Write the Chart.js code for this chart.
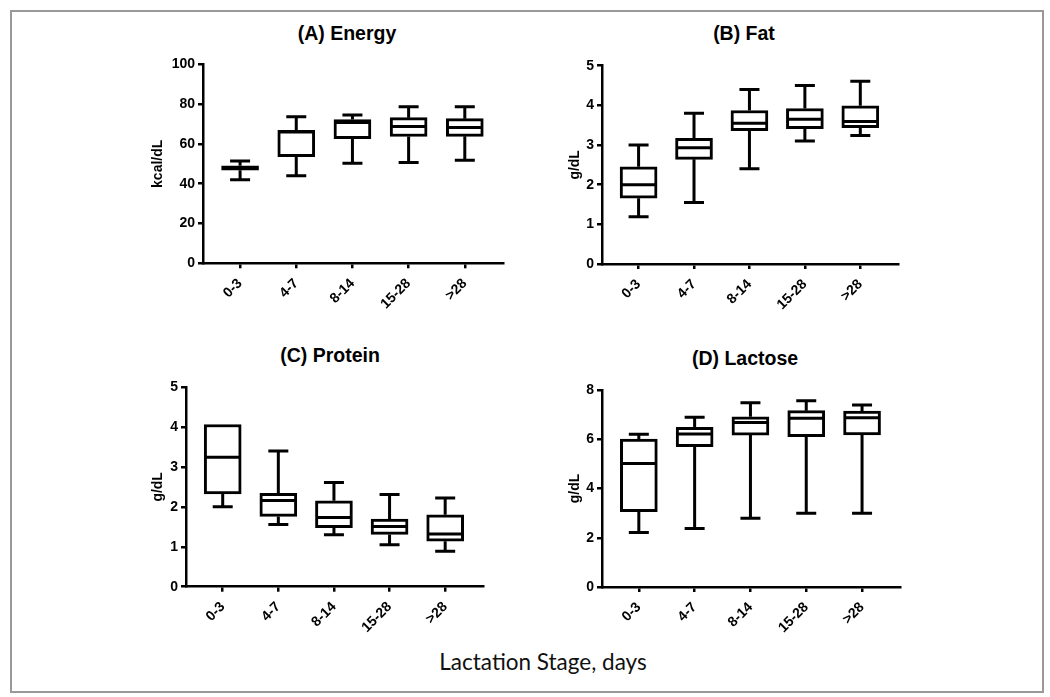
<!DOCTYPE html>
<html>
<head>
<meta charset="utf-8">
<script src="https://cdn.jsdelivr.net/npm/chart.js@4"></script>
<style>
  body { margin: 0; background: #fff; }
  #wrap { position: relative; width: 1050px; height: 697px; background: #fff; }
  #frame { position: absolute; left: 10px; top: 10px; width: 1030px; height: 679px; border: 2px solid #999; }
  canvas { position: absolute; }
  .ptitle { position: absolute; transform: translate(-50%, -50%); font: bold 19.5px "Liberation Sans", Arial, sans-serif; color: #000; white-space: nowrap; }
  #xlabel { position: absolute; left: 543px; top: 661px; transform: translate(-50%, -50%); font: 22.5px Lato, "Open Sans", sans-serif; color: #111; white-space: nowrap; }
</style>
</head>
<body>
<div id="wrap">
  <div id="frame"></div>
  <div class="ptitle" style="left:347px; top:33px;">(A) Energy</div>
  <div class="ptitle" style="left:744px; top:33px;">(B) Fat</div>
  <div class="ptitle" style="left:330px; top:355px;">(C) Protein</div>
  <div class="ptitle" style="left:745px; top:358px;">(D) Lactose</div>
  <div id="xlabel">Lactation Stage, days</div>
  <canvas id="chartA" width="367" height="300" style="left:146px; top:20px;"></canvas>
  <canvas id="chartB" width="345" height="300" style="left:563px; top:20px;"></canvas>
  <canvas id="chartC" width="347" height="300" style="left:146px; top:340px;"></canvas>
  <canvas id="chartD" width="347" height="300" style="left:563px; top:340px;"></canvas>
</div>
<script>
const stages = ["0-3", "4-7", "8-14", "15-28", ">28"];

// (A) Energy, kcal/dL
const energyMin = [42, 44, 50.3, 50.6, 51.8];
const energyQ1 = [46.8, 53.6, 62.6, 63.7, 63.8];
const energyMed = [47.8, 66, 70.8, 68.7, 68.2];
const energyQ3 = [49, 66.8, 72.2, 73.2, 72.7];
const energyMax = [51.4, 73.7, 74.5, 78.7, 78.7];

// (B) Fat, g/dL
const fatMin = [1.19, 1.55, 2.4, 3.1, 3.24];
const fatQ1 = [1.66, 2.64, 3.36, 3.41, 3.44];
const fatMed = [2.0, 2.93, 3.55, 3.65, 3.59];
const fatQ3 = [2.45, 3.17, 3.87, 3.92, 3.99];
const fatMax = [3.0, 3.8, 4.4, 4.5, 4.61];

// (C) Protein, g/dL
const proteinMin = [2.0, 1.56, 1.3, 1.05, 0.89];
const proteinQ1 = [2.32, 1.76, 1.48, 1.31, 1.14];
const proteinMed = [3.24, 2.16, 1.73, 1.51, 1.32];
const proteinQ3 = [4.06, 2.34, 2.15, 1.69, 1.8];
const proteinMax = [4.06, 3.4, 2.61, 2.31, 2.22];

// (D) Lactose, g/dL
const lactoseMin = [2.21, 2.38, 2.79, 2.99, 2.99];
const lactoseQ1 = [3.06, 5.7, 6.17, 6.1, 6.18];
const lactoseMed = [5.02, 6.21, 6.68, 6.85, 6.87];
const lactoseQ3 = [6.01, 6.48, 6.91, 7.16, 7.14];
const lactoseMax = [6.2, 6.89, 7.48, 7.56, 7.39];

Chart.defaults.font.family = '"Liberation Sans", Arial, sans-serif';
Chart.defaults.color = "#000";

// whiskers + median lines, placed with the chart's own scales
const whiskerPlugin = {
  id: "whiskers",
  afterDatasetsDraw(chart) {
    const box = chart.options.plugins.whiskers;
    const { ctx, scales: { x, y } } = chart;
    ctx.save();
    ctx.strokeStyle = "#000";
    ctx.lineWidth = 3;
    ctx.lineCap = "butt";
    stages.forEach((_, i) => {
      const cx = x.getPixelForValue(i);
      const yMin = y.getPixelForValue(box.min[i]);
      const yMax = y.getPixelForValue(box.max[i]);
      const yQ1 = y.getPixelForValue(box.q1[i]);
      const yQ3 = y.getPixelForValue(box.q3[i]);
      const yMed = y.getPixelForValue(box.med[i]);
      ctx.beginPath();
      if (box.max[i] > box.q3[i]) {
        ctx.moveTo(cx, yQ3); ctx.lineTo(cx, yMax);
        ctx.moveTo(cx - 10, yMax); ctx.lineTo(cx + 10, yMax);
      }
      if (box.min[i] < box.q1[i]) {
        ctx.moveTo(cx, yQ1); ctx.lineTo(cx, yMin);
        ctx.moveTo(cx - 10, yMin); ctx.lineTo(cx + 10, yMin);
      }
      ctx.moveTo(cx - 17, yMed); ctx.lineTo(cx + 17, yMed);
      ctx.stroke();
    });
    ctx.restore();
  }
};

function makePanel(id, p) {
  return new Chart(document.getElementById(id), {
    type: "bar",
    data: {
      datasets: [{
        data: stages.map((_, i) => ({ x: i, y: [p.q1[i], p.q3[i]] })),
        backgroundColor: "#fff",
        borderColor: "#000",
        borderWidth: 3,
        borderSkipped: false,
        barThickness: 37
      }]
    },
    options: {
      responsive: false,
      animation: false,
      layout: { padding: { top: p.padTop, right: 10, bottom: 0, left: 0 } },
      plugins: {
        legend: { display: false },
        tooltip: { enabled: false },
        whiskers: p
      },
      scales: {
        x: {
          type: "linear",
          min: -0.66,
          max: 4.68,
          offset: false,
          afterBuildTicks: s => { s.ticks = stages.map((_, i) => ({ value: i })); },
          afterFit: s => { s.height = p.xHeight; },
          ticks: {
            autoSkip: false,
            maxRotation: 45,
            minRotation: 45,
            padding: 7,
            font: { size: 14, weight: "bold" },
            callback: v => stages[v]
          },
          grid: { offset: false, drawOnChartArea: false, drawTicks: true, tickLength: 5, color: "#000", lineWidth: 2.5 },
          border: { display: true, color: "#000", width: 2.5 }
        },
        y: {
          min: 0,
          max: p.yMax,
          afterFit: s => { s.width = p.yWidth; },
          ticks: { stepSize: p.step, padding: 3, font: { size: 14, weight: "bold" } },
          grid: { drawOnChartArea: false, drawTicks: true, tickLength: 5, color: "#000", lineWidth: 2.5 },
          border: { display: true, color: "#000", width: 2.5 },
          title: { display: true, text: p.unit, font: { size: 14, weight: "bold" }, padding: { top: 4, bottom: 4 } }
        }
      }
    },
    plugins: [whiskerPlugin]
  });
}

makePanel("chartA", { min: energyMin, q1: energyQ1, med: energyMed, q3: energyQ3, max: energyMax,
  unit: "kcal/dL", yMax: 100, step: 20, yWidth: 57, padTop: 44.3, xHeight: 56.7 });
makePanel("chartB", { min: fatMin, q1: fatQ1, med: fatMed, q3: fatQ3, max: fatMax,
  unit: "g/dL", yMax: 5, step: 1, yWidth: 39, padTop: 45.7, xHeight: 56 });
makePanel("chartC", { min: proteinMin, q1: proteinQ1, med: proteinMed, q3: proteinQ3, max: proteinMax,
  unit: "g/dL", yMax: 5, step: 1, yWidth: 40, padTop: 47, xHeight: 53.3 });
makePanel("chartD", { min: lactoseMin, q1: lactoseQ1, med: lactoseMed, q3: lactoseQ3, max: lactoseMax,
  unit: "g/dL", yMax: 8, step: 2, yWidth: 39, padTop: 50, xHeight: 53 });
</script>
</body>
</html>
